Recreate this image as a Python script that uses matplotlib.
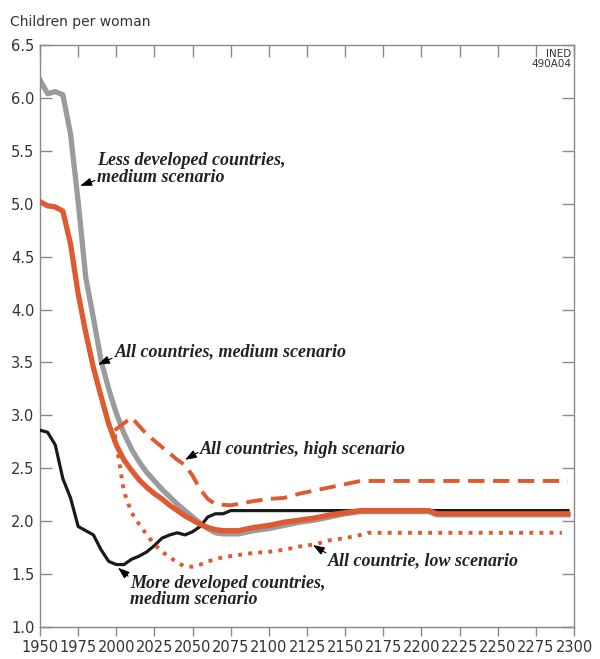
import numpy as np
import matplotlib
matplotlib.use("Agg")
import matplotlib.pyplot as plt

# total fertility, children per woman
yrs_hist = [1950, 1955, 1960, 1965, 1970, 1975, 1980, 1985, 1990, 1995, 2000,
            2005, 2010, 2015, 2020, 2025, 2030, 2035, 2040, 2045, 2050, 2055,
            2060, 2065, 2070]
yrs_long = [2080, 2090, 2100, 2110, 2120, 2130, 2140, 2150, 2160, 2205, 2210, 2296]

less_dev = [6.17, 6.04, 6.06, 6.03, 5.66, 5.02, 4.30, 3.92, 3.52, 3.25, 3.02,
            2.83, 2.68, 2.56, 2.46, 2.38, 2.30, 2.23, 2.16, 2.10, 2.04, 1.98,
            1.93, 1.89, 1.88]
less_dev_long = [1.88, 1.91, 1.93, 1.96, 1.99, 2.01, 2.04, 2.07, 2.09, 2.09, 2.06, 2.06]

all_med = [5.02, 4.98, 4.97, 4.93, 4.62, 4.15, 3.78, 3.45, 3.18, 2.92, 2.72,
           2.58, 2.48, 2.39, 2.32, 2.26, 2.21, 2.15, 2.10, 2.05, 2.01, 1.97,
           1.94, 1.92, 1.91]
all_med_long = [1.91, 1.94, 1.96, 1.99, 2.01, 2.03, 2.06, 2.08, 2.10, 2.10, 2.07, 2.07]

more_dev_yrs = [1950, 1955, 1960, 1965, 1970, 1975, 1980, 1985, 1990, 1995, 2000,
                2005, 2010, 2015, 2020, 2025, 2030, 2035, 2040, 2045, 2050, 2055,
                2060, 2065, 2070, 2075, 2296]
more_dev = [2.86, 2.84, 2.72, 2.40, 2.22, 1.95, 1.91, 1.87, 1.73, 1.62, 1.59,
            1.59, 1.64, 1.67, 1.71, 1.77, 1.84, 1.87, 1.89, 1.87, 1.90, 1.95,
            2.04, 2.07, 2.07, 2.10, 2.10]

high_yrs = [1999, 2010, 2020, 2030, 2040, 2045, 2050, 2055, 2060, 2065, 2075,
            2090, 2100, 2110, 2120, 2130, 2140, 2150, 2160, 2296]
high = [2.86, 2.98, 2.82, 2.70, 2.58, 2.53, 2.43, 2.30, 2.21, 2.16, 2.15,
        2.19, 2.21, 2.22, 2.26, 2.29, 2.32, 2.35, 2.38, 2.38]

low_yrs = [1999, 2005, 2010, 2015, 2020, 2025, 2030, 2035, 2040, 2045, 2050,
           2055, 2060, 2070, 2080, 2090, 2100, 2110, 2120, 2130, 2140, 2150,
           2160, 2165, 2292]
low = [2.82, 2.28, 2.08, 1.97, 1.87, 1.78, 1.71, 1.66, 1.61, 1.57, 1.57,
       1.59, 1.62, 1.66, 1.68, 1.70, 1.71, 1.73, 1.76, 1.78, 1.82, 1.84,
       1.87, 1.89, 1.89]

ORANGE = '#df5a30'
GREY = '#9a9b9f'
AXIS = '#8a8a8a'

plt.rcParams['font.family'] = ['DejaVu Sans']
fig = plt.figure(figsize=(6.0, 6.59), dpi=100)
ax = fig.add_axes([0.0667, 0.0486, 0.89, 0.883])

ax.plot(yrs_hist + yrs_long, less_dev + less_dev_long, color=GREY, lw=3.8, zorder=2)
ax.plot(more_dev_yrs, more_dev, color='#1a1a1a', lw=2.3, zorder=3)
ax.plot(yrs_hist + yrs_long, all_med + all_med_long, color=ORANGE, lw=3.8, zorder=4)
ax.plot(high_yrs, high, color=ORANGE, lw=2.8, dashes=(4.2, 2.2), zorder=4)
ax.plot(low_yrs, low, color=ORANGE, lw=2.8, dashes=(1, 1.6), zorder=4)

ax.set_xlim(1950, 2300)
ax.set_ylim(1.0, 6.5)
ax.set_xticks(np.arange(1950, 2301, 25))
ax.set_yticks(np.arange(1.0, 6.51, 0.5))
ax.set_yticklabels(['%.1f' % v for v in np.arange(1.0, 6.51, 0.5)])

for s in ax.spines.values():
    s.set_color(AXIS)
    s.set_linewidth(1.0)
ax.tick_params(axis='y', which='both', direction='in', length=8.5, width=1.0,
               color=AXIS, left=True, right=True, labelsize=10.5, pad=4,
               labelcolor='#333333')
ax.tick_params(axis='x', which='both', direction='in', length=8.5, width=1.0,
               color=AXIS, top=True, bottom=False, labelsize=10.5, labelcolor='#333333')
# bottom ticks go outward
sec = ax.secondary_xaxis('bottom')
sec.set_xticks(np.arange(1950, 2301, 25))
sec.tick_params(direction='out', length=6.5, width=1.0, color=AXIS,
                labelsize=10.5, labelcolor='#333333', pad=3)
sec.spines['bottom'].set_color(AXIS)
ax.tick_params(axis='x', labelbottom=False)

fig.text(0.017, 0.966, 'Children per woman', fontsize=10, color='#333333', va='center')
ax.text(0.995, 0.993, 'INED\n490A04', transform=ax.transAxes, ha='right', va='top',
        fontsize=7.5, color='#333333', linespacing=0.95)

note = dict(fontsize=13, fontstyle='italic', fontweight='bold',
            family='Liberation Serif', color='#222222', linespacing=0.95,
            ha='left', va='center')
arrow = dict(arrowstyle='-|>,head_length=0.7,head_width=0.25', color='black',
             lw=0.8, shrinkA=0, shrinkB=0)

ax.text(1987.5, 5.33, 'Less developed countries,\nmedium scenario', **note)
ax.annotate('', xy=(1976.3, 5.17), xytext=(1986, 5.22), arrowprops=arrow)
ax.text(1999, 3.60, 'All countries, medium scenario', **note)
ax.annotate('', xy=(1988, 3.48), xytext=(1997.2, 3.54), arrowprops=arrow)
ax.text(2054.8, 2.68, 'All countries, high scenario', **note)
ax.annotate('', xy=(2045, 2.58), xytext=(2053.5, 2.65), arrowprops=arrow)
ax.text(2009, 1.335, 'More developed countries,\nmedium scenario', **note)
ax.annotate('', xy=(2001.1, 1.56), xytext=(2007.7, 1.48), arrowprops=arrow)
ax.text(2138.7, 1.63, 'All countrie, low scenario', **note)
ax.annotate('', xy=(2128.9, 1.775), xytext=(2137.4, 1.70), arrowprops=arrow)

fig.savefig('out.png', dpi=100)
